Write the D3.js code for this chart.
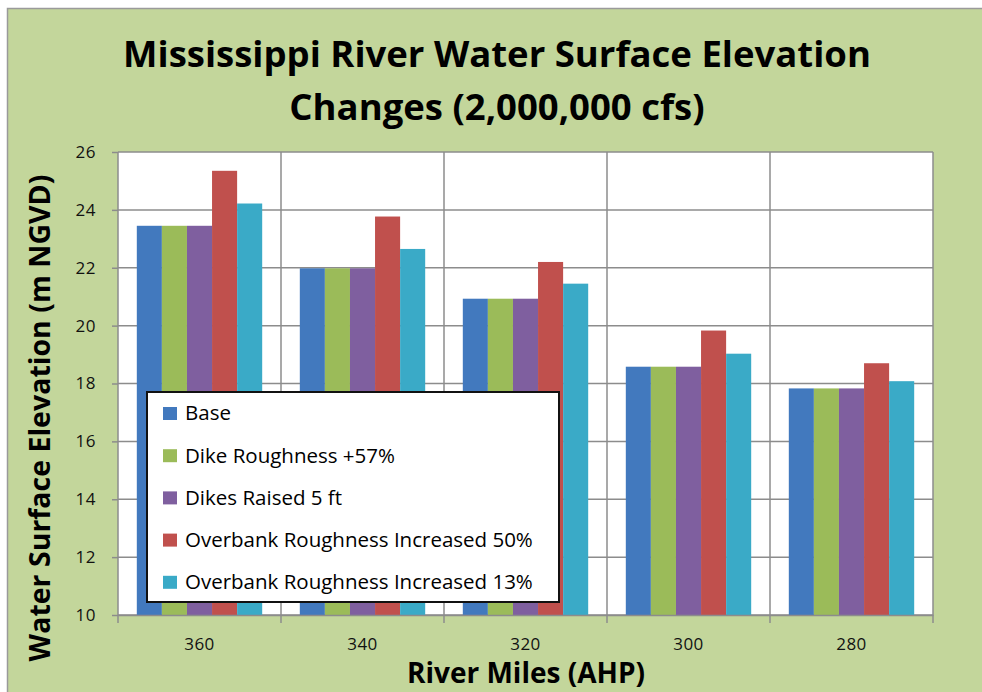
<!DOCTYPE html>
<html>
<head>
<meta charset="utf-8">
<title>Mississippi River Water Surface Elevation Changes</title>
<script src="https://cdn.jsdelivr.net/npm/d3@7"></script>
<style>
    body { margin: 0; background: #fff; }
    text { font-family: "Open Sans", Lato, sans-serif; fill: #000; }
    .grid line { stroke: #8c8c8c; stroke-width: 1.5px; }
    .axis path, .axis line { stroke: #8c8c8c; stroke-width: 1.5px; }
    .axis text { font-size: 17px; fill: #111; font-family: "Open Sans", sans-serif; letter-spacing: 0.5px; }
</style>
</head>
<body>
<svg id="chart" width="982" height="692"></svg>
<script>
// river miles (AHP)
var miles = ["360", "340", "320", "300", "280"];
var seriesNames = [
    "Base",
    "Dike Roughness +57%",
    "Dikes Raised 5 ft",
    "Overbank Roughness Increased 50%",
    "Overbank Roughness Increased 13%"
];
// water surface elevation (m NGVD), one array per series
var base       = [23.45, 21.98, 20.93, 18.58, 17.83];
var dikeRough  = [23.45, 21.98, 20.93, 18.58, 17.83];
var dikeRaised = [23.45, 21.98, 20.93, 18.58, 17.83];
var overbank50 = [25.35, 23.77, 22.20, 19.83, 18.70];
var overbank13 = [24.22, 22.65, 21.45, 19.03, 18.08];
var yTicks = [10, 12, 14, 16, 18, 20, 22, 24, 26];
var colors = ["#4279be", "#9bbb59", "#7f5f9f", "#c0504d", "#3aaac7"];

var allSeries = [base, dikeRough, dikeRaised, overbank50, overbank13];

var svg = d3.select("#chart");
var W = 982, H = 692;
var plot = {left: 118, right: 933, top: 152, bottom: 615};

// chart area background
svg.append("rect")
    .attr("x", 7.5).attr("y", 8.5)
    .attr("width", W).attr("height", H)
    .attr("fill", "#c3d69b")
    .attr("stroke", "#9a9a9a")
    .attr("stroke-width", 1.5);

var x = d3.scaleBand().domain(miles).range([plot.left, plot.right]).padding(0);
var xs = d3.scaleBand().domain(d3.range(seriesNames.length))
    .range([0, x.bandwidth()]).paddingInner(0).paddingOuter(0.75);
var y = d3.scaleLinear().domain([10, 26]).range([plot.bottom, plot.top]);

svg.append("rect")
    .attr("x", plot.left).attr("y", plot.top)
    .attr("width", plot.right - plot.left).attr("height", plot.bottom - plot.top)
    .attr("fill", "#fff");

// gridlines
var grid = svg.append("g").attr("class", "grid");
grid.selectAll(".h").data(yTicks).enter().append("line")
    .attr("x1", plot.left).attr("x2", plot.right)
    .attr("y1", function(d) { return y(d); }).attr("y2", function(d) { return y(d); });
grid.selectAll(".v").data(miles.slice(1).concat(["end"])).enter().append("line")
    .attr("x1", function(d, i) { return i < miles.length - 1 ? x(d) : plot.right; })
    .attr("x2", function(d, i) { return i < miles.length - 1 ? x(d) : plot.right; })
    .attr("y1", plot.top).attr("y2", plot.bottom);

// bars
var groups = svg.append("g").selectAll("g")
    .data(miles).enter().append("g")
    .attr("transform", function(d) { return "translate(" + x(d) + ",0)"; });
groups.selectAll("rect")
    .data(function(d, i) {
        return allSeries.map(function(s, k) { return {k: k, v: s[i]}; });
    })
    .enter().append("rect")
    .attr("x", function(d) { return xs(d.k); })
    .attr("width", xs.bandwidth())
    .attr("y", function(d) { return y(d.v); })
    .attr("height", function(d) { return y(10) - y(d.v); })
    .attr("fill", function(d) { return colors[d.k]; });

// axes
var yAxis = svg.append("g").attr("class", "axis")
    .attr("transform", "translate(" + plot.left + ",0)")
    .call(d3.axisLeft(y).tickValues(yTicks).tickSize(6).tickPadding(16).tickSizeOuter(0));
var xAxis = svg.append("g").attr("class", "axis")
    .attr("transform", "translate(0," + plot.bottom + ")")
    .call(d3.axisBottom(x).tickSize(0).tickPadding(23).tickSizeOuter(0));
xAxis.selectAll(".tickmark").data(miles.concat(["end"])).enter().append("line")
    .attr("class", "tickmark")
    .attr("x1", function(d, i) { return i < miles.length ? x(d) : plot.right; })
    .attr("x2", function(d, i) { return i < miles.length ? x(d) : plot.right; })
    .attr("y1", 0).attr("y2", 8);
yAxis.select(".domain").attr("d", "M0," + plot.top + "V" + plot.bottom);

// titles
var title = svg.append("text")
    .attr("x", 497).attr("text-anchor", "middle")
    .style("font-size", "36.5px").style("font-weight", "bold");
title.append("tspan").attr("x", 497).attr("y", 67).text("Mississippi River Water Surface Elevation");
title.append("tspan").attr("x", 497).attr("y", 120).text("Changes (2,000,000 cfs)");

svg.append("text")
    .attr("x", 526).attr("y", 683).attr("text-anchor", "middle")
    .style("font-size", "28px").style("font-weight", "bold")
    .text("River Miles (AHP)");

svg.append("text")
    .attr("transform", "translate(50,418) rotate(-90)")
    .attr("text-anchor", "middle")
    .style("font-size", "28.5px").style("font-weight", "bold")
    .text("Water Surface Elevation (m NGVD)");

// legend
var legend = svg.append("g").attr("transform", "translate(147,392)");
legend.append("rect")
    .attr("width", 412).attr("height", 210)
    .attr("fill", "#fff").attr("stroke", "#111").attr("stroke-width", 2);
var item = legend.selectAll(".item").data(seriesNames).enter().append("g")
    .attr("transform", function(d, i) { return "translate(16," + (21 + i * 42.2) + ")"; });
item.append("rect")
    .attr("x", 0).attr("y", -6).attr("width", 14).attr("height", 13)
    .attr("fill", function(d, i) { return colors[i]; });
item.append("text")
    .attr("x", 22).attr("dy", "0.36em")
    .style("font-size", "20.5px")
    .text(function(d) { return d; });
</script>
</body>
</html>
